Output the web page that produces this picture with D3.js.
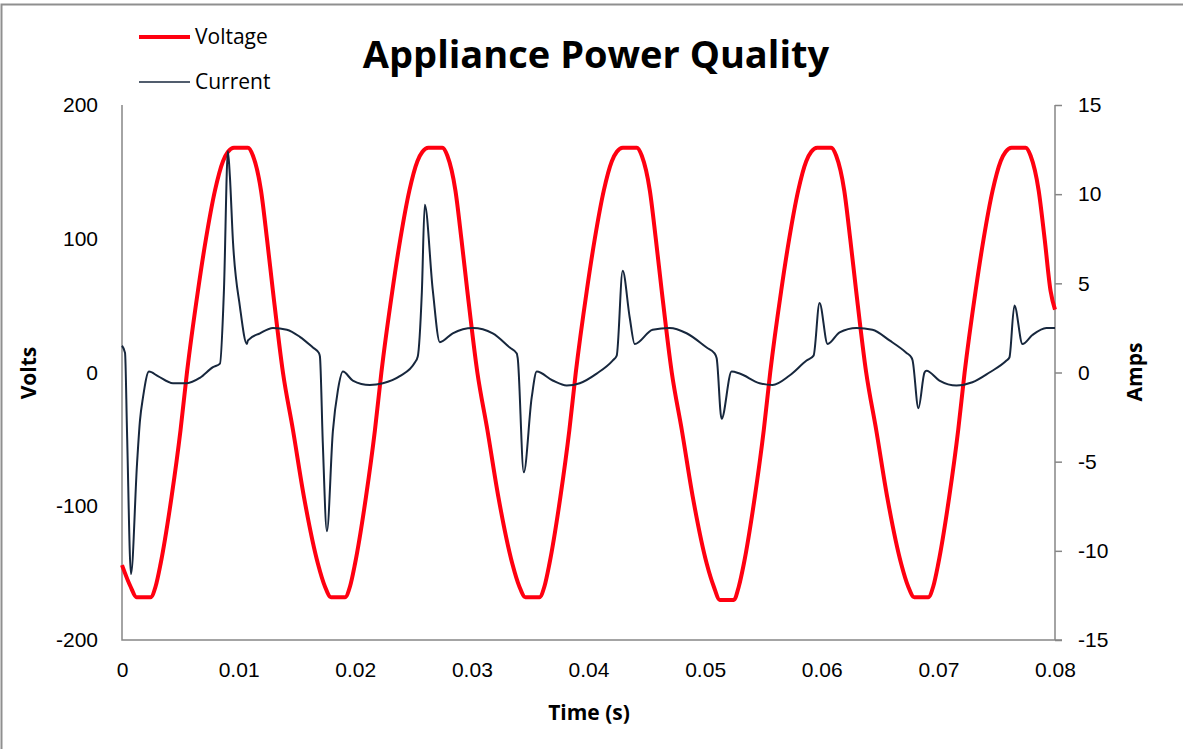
<!DOCTYPE html>
<html>
<head>
<meta charset="utf-8">
<script src="https://cdn.jsdelivr.net/npm/d3@7"></script>
<style>
  body { margin: 0; background: #fff; }
  svg { display: block; font-family: "Open Sans", Lato, sans-serif; }
</style>
</head>
<body>
<div class="chart"></div>
<script>
// voltage samples (seconds, volts)
const voltageTime = [
  0, 0.00073, 0.00125, 0.00245, 0.00288, 0.00331, 0.00425, 0.00502,
  0.00557, 0.00651, 0.00720, 0.00797, 0.00866, 0.00909, 0.00960, 0.01080, 0.01123, 0.01192, 0.01243, 0.01294,
  0.01380, 0.01466, 0.01560, 0.01680, 0.01740, 0.01792, 0.01912, 0.01955, 0.01998, 0.02092, 0.02169,
  0.02224, 0.02318, 0.02387, 0.02464, 0.02533, 0.02576, 0.02627, 0.02747, 0.02790, 0.02859, 0.02910, 0.02961,
  0.03047, 0.03133, 0.03227, 0.03347, 0.03407, 0.03459, 0.03579, 0.03622, 0.03665, 0.03759, 0.03836,
  0.03891, 0.03985, 0.04054, 0.04131, 0.04200, 0.04243, 0.04294, 0.04414, 0.04457, 0.04526, 0.04577, 0.04628,
  0.04714, 0.04800, 0.04894, 0.05014, 0.05074, 0.05126, 0.05246, 0.05289, 0.05332, 0.05426, 0.05503,
  0.05558, 0.05652, 0.05721, 0.05798, 0.05867, 0.05910, 0.05961, 0.06081, 0.06124, 0.06193, 0.06244, 0.06295,
  0.06381, 0.06467, 0.06561, 0.06681, 0.06741, 0.06793, 0.06913, 0.06956, 0.06999, 0.07093, 0.07170,
  0.07225, 0.07319, 0.07388, 0.07465, 0.07534, 0.07577, 0.07628, 0.07748, 0.07791, 0.07860, 0.07911, 0.07962,
  0.08
]
const voltage = [
  -144, -160, -168, -168, -160, -143, -93, -43,
  0, 61, 100, 136, 158, 165, 168, 168, 162, 136, 100, 61,
  0, -43, -93, -143, -160, -168, -168, -160, -143, -93, -43,
  0, 61, 100, 136, 158, 165, 168, 168, 162, 136, 100, 61,
  0, -43, -93, -143, -160, -168, -168, -160, -143, -93, -43,
  0, 61, 100, 136, 158, 165, 168, 168, 162, 136, 100, 61,
  0, -43, -93, -143, -160, -170, -170, -160, -143, -93, -43,
  0, 61, 100, 136, 158, 165, 168, 168, 162, 136, 100, 61,
  0, -43, -93, -143, -160, -168, -168, -160, -143, -93, -43,
  0, 61, 100, 136, 158, 165, 168, 168, 162, 136, 100, 61,
  47
]

// current samples (seconds, amps)
const currentTime = [
  0, 0.00026, 0.00043, 0.00077, 0.00129, 0.00154, 0.00180, 0.00231, 0.00308, 0.00437, 0.00557, 0.00668,
  0.00780, 0.00840, 0.00874, 0.00908, 0.00925, 0.00951, 0.01011, 0.01071, 0.01080, 0.01183, 0.01294,
  0.01414, 0.01525, 0.01637, 0.01688, 0.01697, 0.01722, 0.01757, 0.01808, 0.01851, 0.01894, 0.01979,
  0.02125, 0.02237, 0.02382, 0.02511, 0.02536, 0.02571, 0.02596, 0.02665, 0.02725, 0.02836, 0.03008,
  0.03179, 0.03325, 0.03385, 0.03393, 0.03445, 0.03513, 0.03556, 0.03693, 0.03813, 0.03925, 0.04070,
  0.04207, 0.04242, 0.04293, 0.04353, 0.04396, 0.04550, 0.04696, 0.04841, 0.05013, 0.05081, 0.05099,
  0.05141, 0.05227, 0.05296, 0.05467, 0.05578, 0.05724, 0.05870, 0.05930, 0.05981, 0.06050, 0.06153,
  0.06298, 0.06435, 0.06581, 0.06727, 0.06769, 0.06778, 0.06829, 0.06881, 0.06898, 0.07009, 0.07155,
  0.07292, 0.07438, 0.07584, 0.07609, 0.07652, 0.07721, 0.07806, 0.07926, 0.08
]
const current = [
  1.5, 1.1, -3.3, -11.3, -5.1, -2.7, -1.4, 0.05, -0.2, -0.6, -0.6, -0.3,
  0.3, 0.5, 4.6, 12.4, 11.0, 7.4, 3.7, 1.6, 1.8, 2.2, 2.5,
  2.4, 2.0, 1.4, 1.1, 0.9, -4.0, -8.9, -3.3, -1.0, 0.05, -0.45,
  -0.7, -0.6, -0.2, 0.56, 0.9, 4.5, 9.4, 4.6, 1.7, 2.2, 2.5,
  2.2, 1.4, 1.07, 0.8, -5.6, -1.4, 0.05, -0.45, -0.73, -0.6, -0.06,
  0.67, 0.95, 5.7, 3.1, 1.6, 2.4, 2.5, 2.2, 1.4, 1.07, 0.8,
  -2.6, 0.05, -0.06, -0.6, -0.7, -0.17, 0.67, 0.95, 3.9, 1.6, 2.25,
  2.5, 2.4, 1.8, 1.1, 0.84, 0.7, -2.0, 0.0, 0.1, -0.45, -0.73,
  -0.55, 0.0, 0.67, 0.84, 3.76, 1.6, 2.1, 2.5, 2.5
]

const timeTicks = [0, 0.01, 0.02, 0.03, 0.04, 0.05, 0.06, 0.07, 0.08]
const voltTicks = [-200, -100, 0, 100, 200]
const ampTicks = [-15, -10, -5, 0, 5, 10, 15]

const width = 1183
const height = 749
const margin = { top: 105, right: 128, bottom: 109, left: 122 }

const svg = d3.select(".chart")
  .append("svg")
  .attr("width", width)
  .attr("height", height)

// outer chart frame (right and bottom edges fall outside the picture)
svg.append("rect")
  .attr("x", 1.5)
  .attr("y", 4.5)
  .attr("width", width + 10)
  .attr("height", height + 10)
  .attr("fill", "none")
  .attr("stroke", "#8f8f8f")
  .attr("stroke-width", 2)

const x = d3.scaleLinear()
  .domain([0, 0.08])
  .range([margin.left, width - margin.right])

const yV = d3.scaleLinear()
  .domain([-200, 200])
  .range([height - margin.bottom, margin.top])

const yA = d3.scaleLinear()
  .domain([-15, 15])
  .range([height - margin.bottom, margin.top])

const axisColor = "#868686"
const tickFont = "21px"
const plain = d => String(d)   // hyphen minus like the original

// bottom axis, labels only
const xAxis = svg.append("g")
  .attr("transform", `translate(0,${height - margin.bottom})`)
  .call(d3.axisBottom(x).tickValues(timeTicks).tickSize(0).tickPadding(22).tickFormat(plain))
xAxis.select(".domain").remove()
xAxis.selectAll("text").attr("font-size", tickFont).attr("fill", "#000").attr("font-family", null)

// left axis
const leftAxis = svg.append("g")
  .attr("transform", `translate(${margin.left},0)`)
  .call(d3.axisLeft(yV).tickValues(voltTicks).tickSize(0).tickPadding(24).tickFormat(plain))
leftAxis.select(".domain").remove()
leftAxis.selectAll("text").attr("font-size", tickFont).attr("fill", "#000").attr("font-family", null)

// right axis with outer ticks
const rightAxis = svg.append("g")
  .attr("transform", `translate(${width - margin.right},0)`)
  .call(d3.axisRight(yA).tickValues(ampTicks).tickSize(7).tickSizeOuter(0).tickPadding(16).tickFormat(plain))
rightAxis.select(".domain").remove()
rightAxis.selectAll("line").attr("stroke", axisColor).attr("stroke-width", 1.5)
rightAxis.selectAll("text").attr("font-size", tickFont).attr("fill", "#000").attr("font-family", null)

// axis lines
svg.append("path")
  .attr("d", `M${x(0)},${yV(200)}V${yV(-200)}H${x(0.08) + 7}`)
  .attr("fill", "none")
  .attr("stroke", axisColor)
  .attr("stroke-width", 1.5)
svg.append("line")
  .attr("x1", x(0.08)).attr("x2", x(0.08))
  .attr("y1", yA(15)).attr("y2", yA(-15))
  .attr("stroke", axisColor)
  .attr("stroke-width", 1.5)

// series
const currentLine = d3.line()
  .x((d, i) => x(currentTime[i]))
  .y(d => yA(d))
  .curve(d3.curveMonotoneX)

const voltageLine = d3.line()
  .x((d, i) => x(voltageTime[i]))
  .y(d => yV(d))
  .curve(d3.curveMonotoneX)

svg.append("path")
  .datum(voltage)
  .attr("d", voltageLine)
  .attr("fill", "none")
  .attr("stroke", "#ff0010")
  .attr("stroke-width", 4)
  .attr("stroke-linejoin", "round")

svg.append("path")
  .datum(current)
  .attr("d", currentLine)
  .attr("fill", "none")
  .attr("stroke", "#17273d")
  .attr("stroke-width", 2)
  .attr("stroke-linejoin", "round")

// titles
svg.append("text")
  .attr("x", 596)
  .attr("y", 68)
  .attr("text-anchor", "middle")
  .attr("font-size", "38px")
  .attr("font-weight", "bold")
  .text("Appliance Power Quality")

svg.append("text")
  .attr("x", 589)
  .attr("y", 720)
  .attr("text-anchor", "middle")
  .attr("font-size", "21px")
  .attr("font-weight", "bold")
  .text("Time (s)")

svg.append("text")
  .attr("transform", "translate(36,373) rotate(-90)")
  .attr("text-anchor", "middle")
  .attr("font-size", "21px")
  .attr("font-weight", "bold")
  .text("Volts")

svg.append("text")
  .attr("transform", "translate(1142,372) rotate(-90)")
  .attr("text-anchor", "middle")
  .attr("font-size", "21px")
  .attr("font-weight", "bold")
  .text("Amps")

// legend
const legend = [
  { name: "Voltage", color: "#ff0010", w: 4, y: 37 },
  { name: "Current", color: "#17273d", w: 1.5, y: 82 }
]
const lg = svg.append("g").selectAll("g")
  .data(legend)
  .join("g")
  .attr("transform", d => `translate(139,${d.y})`)
lg.append("line")
  .attr("x2", 51)
  .attr("stroke", d => d.color)
  .attr("stroke-width", d => d.w)
lg.append("text")
  .attr("x", 56)
  .attr("dy", "0.35em")
  .attr("font-size", "21px")
  .text(d => d.name)
</script>
</body>
</html>
